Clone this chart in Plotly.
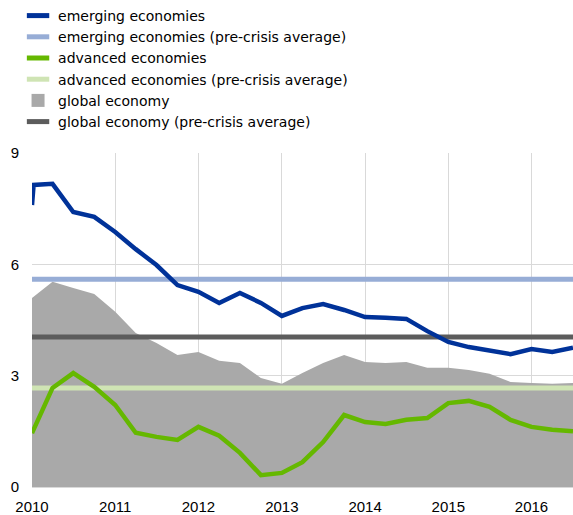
import plotly.graph_objects as go

QUARTERS = [
    "2010-01-01", "2010-04-01", "2010-07-01", "2010-10-01",
    "2011-01-01", "2011-04-01", "2011-07-01", "2011-10-01",
    "2012-01-01", "2012-04-01", "2012-07-01", "2012-10-01",
    "2013-01-01", "2013-04-01", "2013-07-01", "2013-10-01",
    "2014-01-01", "2014-04-01", "2014-07-01", "2014-10-01",
    "2015-01-01", "2015-04-01", "2015-07-01", "2015-10-01",
    "2016-01-01", "2016-04-01", "2016-07-01",
]

# emerging economies has one extra early observation (the small hook at the start)
EMERGING_DATES = ["2010-01-01", "2010-01-08"] + QUARTERS[1:]
EMERGING = [7.6, 8.14, 8.17, 7.41, 7.28, 6.87, 6.41, 5.98, 5.44, 5.26, 4.96, 5.23, 4.96,
            4.61, 4.82, 4.93, 4.77, 4.58, 4.56, 4.53, 4.20, 3.91, 3.77, 3.69, 3.58,
            3.72, 3.64, 3.75]
ADVANCED = [1.45, 2.67, 3.07, 2.70, 2.21, 1.46, 1.35, 1.27, 1.62, 1.38, 0.92, 0.32, 0.38,
            0.67, 1.21, 1.94, 1.75, 1.70, 1.81, 1.86, 2.26, 2.32, 2.16, 1.81, 1.62,
            1.54, 1.50]
GLOBAL = [5.09, 5.53, 5.36, 5.20, 4.72, 4.15, 3.88, 3.56, 3.64, 3.40, 3.34, 2.94, 2.78,
          3.07, 3.34, 3.56, 3.37, 3.34, 3.37, 3.21, 3.21, 3.15, 3.05, 2.83, 2.80,
          2.78, 2.80]

EMERGING_AVG = 5.6
ADVANCED_AVG = 2.67
GLOBAL_AVG = 4.04

BLUE = "#003299"
LIGHT_BLUE = "#97ADD6"
GREEN = "#65B800"
LIGHT_GREEN = "#CFE4B4"
GREY_AREA = "#A9A9A9"
DARK_GREY = "#5C5C5C"
GRID = "#D9D9D9"

LEGEND = [
    ("emerging economies", BLUE, "line-ew"),
    ("emerging economies (pre-crisis average)", LIGHT_BLUE, "line-ew"),
    ("advanced economies", GREEN, "line-ew"),
    ("advanced economies (pre-crisis average)", LIGHT_GREEN, "line-ew"),
    ("global economy", GREY_AREA, "square"),
    ("global economy (pre-crisis average)", DARK_GREY, "line-ew"),
]


def avg_line(value: float, color: str) -> go.Scatter:
    return go.Scatter(
        x=[QUARTERS[0], QUARTERS[-1]],
        y=[value, value],
        mode="lines",
        line=dict(color=color, width=5),
        showlegend=False,
        hoverinfo="skip",
    )


fig = go.Figure()

# drawing order: area first, averages, then the lines on top
fig.add_trace(go.Scatter(x=QUARTERS, y=GLOBAL, mode="lines", fill="tozeroy",
                         fillcolor=GREY_AREA, line=dict(width=0, color=GREY_AREA),
                         showlegend=False))
fig.add_trace(avg_line(EMERGING_AVG, LIGHT_BLUE))
fig.add_trace(avg_line(ADVANCED_AVG, LIGHT_GREEN))
fig.add_trace(avg_line(GLOBAL_AVG, DARK_GREY))
fig.add_trace(go.Scatter(x=QUARTERS, y=ADVANCED, mode="lines",
                         line=dict(color=GREEN, width=4.5), showlegend=False))
fig.add_trace(go.Scatter(x=EMERGING_DATES, y=EMERGING, mode="lines",
                         line=dict(color=BLUE, width=4.5), showlegend=False))

# legend-only entries so the keys look like short bars / a square
for name, color, symbol in LEGEND:
    if symbol == "square":
        marker = dict(symbol="square", size=13, color=color)
    else:
        marker = dict(symbol="line-ew", size=17, line=dict(color=color, width=5))
    fig.add_trace(go.Scatter(x=[None], y=[None], mode="markers", name=name, marker=marker))

fig.update_layout(
    width=573,
    height=515,
    margin=dict(l=32, r=0, t=153, b=28, autoexpand=False),
    plot_bgcolor="white",
    paper_bgcolor="white",
    font=dict(family="Liberation Sans, Arial, sans-serif", size=15, color="#000000"),
    legend=dict(
        xref="container", yref="container",
        x=0.0315, y=1.008, xanchor="left", yanchor="top",
        font=dict(family="DejaVu Sans", size=14, color="#000000"),
        bgcolor="rgba(0,0,0,0)",
        itemclick=False,
    ),
)
fig.update_xaxes(
    type="date",
    range=[QUARTERS[0], QUARTERS[-1]],
    dtick="M12",
    tick0="2010-01-01",
    tickformat="%Y",
    tickangle=0,
    showgrid=True,
    gridcolor=GRID,
    gridwidth=1,
    showline=True,
    linecolor=GRID,
    ticks="",
    ticklabelstandoff=6,
    zeroline=False,
)
fig.update_yaxes(
    range=[0, 9],
    dtick=3,
    showgrid=True,
    gridcolor=GRID,
    gridwidth=1,
    ticks="",
    ticklabelstandoff=12,
    zeroline=False,
)

# drop the default body margin so the figure sits at the page's top-left corner
fig.write_html(
    "out.html",
    config={"displayModeBar": False},
    post_script="document.body.style.margin = '0';",
)
